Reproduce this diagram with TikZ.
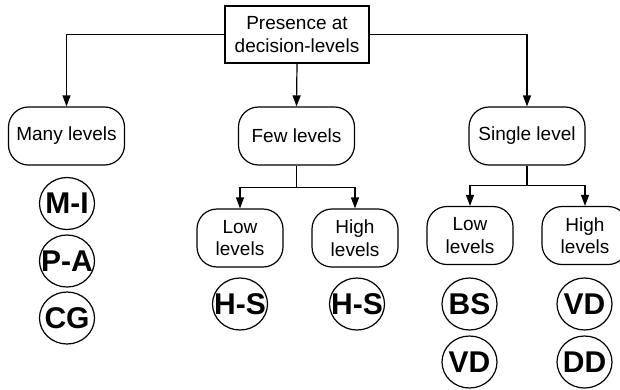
\documentclass[tikz,border=0pt]{standalone}
\usepackage{fontspec}
\setmainfont{Liberation Sans}
\usetikzlibrary{arrows.meta,shapes.geometric}

\tikzset{
  conn/.style={line width=1.2pt, draw=black},
  arr/.style={conn, -{Triangle[length=11pt,width=8pt]}},
  topbox/.style={draw, line width=1.2pt, minimum width=144pt, minimum height=57pt,
    inner sep=0pt, align=center, font=\fontsize{19}{22.5}\selectfont},
  catbox/.style={draw, line width=1.2pt, rounded corners=20pt, minimum width=116pt,
    minimum height=58pt, inner sep=0pt, align=center, font=\fontsize{19}{22.5}\selectfont},
  subbox/.style={catbox, minimum width=86pt},
  badge/.style={draw, line width=1.2pt, ellipse, inner sep=0pt, minimum width=55pt,
    minimum height=52pt, font=\fontsize{30}{32}\selectfont\bfseries}
}

\begin{document}
\begin{tikzpicture}[x=1pt, y=-1pt]
  \useasboundingbox (0,0) rectangle (620,389);

  % root
  \node[topbox] (root) at (297,34.5) {Presence at\\decision-levels};

  % first level
  \node[catbox] (many)   at (66.5,136) {Many levels};
  \node[catbox] (few)    at (296.5,136) {Few levels};
  \node[catbox] (single) at (527,136) {Single level};

  \draw[arr] (root.west) -| (many.north);
  \draw[arr] (root.south) -- (few.north);
  \draw[arr] (root.east) -| (single.north);

  % second level under "Few levels"
  \node[subbox] (fewlow)  at (240,238) {Low\\levels};
  \node[subbox] (fewhigh) at (355,238) {High\\levels};
  \draw[conn] (few.south) -- ++(0,22) coordinate (fewj);
  \draw[arr] (fewj) -| (fewlow.north);
  \draw[arr] (fewj) -| (fewhigh.north);

  % second level under "Single level"
  \node[subbox] (sglow)  at (470,235.5) {Low\\levels};
  \node[subbox] (sghigh) at (585,235.5) {High\\levels};
  \draw[conn] (single.south) -- ++(0,20) coordinate (sgj);
  \draw[arr] (sgj) -| (sglow.north);
  \draw[arr] (sgj) -| (sghigh.north);

  % badges
  \node[badge] (mi) at (67,203.5) {\makebox[0pt]{M-I}};
  \node[badge] (pa) at (67,261)   {\makebox[0pt]{P-A}};
  \node[badge] (cg) at (67,318)   {\makebox[0pt]{CG}};

  \node[badge] (hs1) at (240,304) {\makebox[0pt]{H-S}};
  \node[badge] (hs2) at (357,304) {\makebox[0pt]{H-S}};

  \node[badge] (bs)  at (469.5,304) {\makebox[0pt]{BS}};
  \node[badge] (vd1) at (469.5,362) {\makebox[0pt]{VD}};
  \node[badge] (vd2) at (584.5,304) {\makebox[0pt]{VD}};
  \node[badge] (dd)  at (584.5,362) {\makebox[0pt]{DD}};
\end{tikzpicture}
\end{document}
